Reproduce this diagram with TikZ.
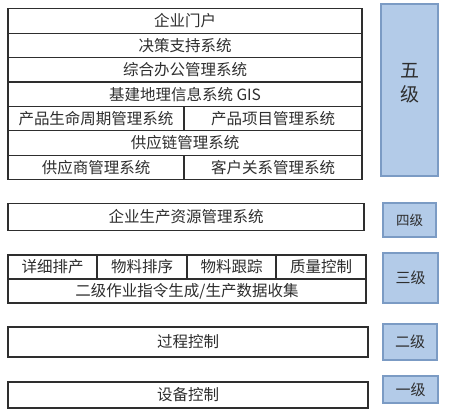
\documentclass[tikz,border=0pt]{standalone}
\usepackage{fontspec}
\setmainfont{Noto Sans CJK SC}
\usepackage{xcolor}
\usepackage{tikz}

\definecolor{levelfill}{HTML}{B3CBE8}
\definecolor{levelline}{HTML}{7B9BC4}
\definecolor{textgray}{HTML}{2E2E2E}

\tikzset{
    cell/.style={draw=textgray, line width=1.1pt, rectangle, inner sep=0pt,
        minimum height=24.4pt, text=textgray, font=\fontsize{15.5}{16}\selectfont},
    level/.style={draw=levelline, line width=1.2pt, fill=levelfill, rectangle,
        inner sep=0pt, text=textgray, font=\fontsize{15}{16}\selectfont}
}

\begin{document}
\begin{tikzpicture}[x=1pt, y=-1pt]
    \useasboundingbox[fill=white] (0,0) rectangle (450,419);

    % Level 5: enterprise layer
    \node[cell, minimum width=354pt] (portal) at (185,21) {企业门户};
    \node[cell, minimum width=354pt] (decision) at (185,45.4) {决策支持系统};
    \node[cell, minimum width=354pt] (office) at (185,69.8) {综合办公管理系统};
    \node[cell, minimum width=354pt] (gis) at (185,94.2) {基建地理信息系统 GIS};
    \node[cell, minimum width=176pt] (plm) at (96,118.6) {产品生命周期管理系统};
    \node[cell, minimum width=178pt] (project) at (273,118.6) {产品项目管理系统};
    \node[cell, minimum width=354pt] (scm) at (185,143) {供应链管理系统};
    \node[cell, minimum width=176pt] (srm) at (96,167.4) {供应商管理系统};
    \node[cell, minimum width=178pt] (crm) at (273,167.4) {客户关系管理系统};
    \node[level, minimum width=57pt, minimum height=172pt, align=center,
        text depth=16pt, font=\fontsize{19}{24}\selectfont] (lv5) at (409.5,90) {五\\级};

    % Level 4: ERP
    \node[cell, minimum width=356pt, minimum height=27pt] (erp) at (186,217) {企业生产资源管理系统};
    \node[level, minimum width=53pt, minimum height=34pt,
        font=\fontsize{13.5}{14}\selectfont] (lv4) at (409.5,220) {四级};

    % Level 3: MES
    \node[cell, minimum width=89pt, minimum height=24pt] (detail) at (52.5,267) {详细排产};
    \node[cell, minimum width=90pt, minimum height=24pt] (sort) at (142,267) {物料排序};
    \node[cell, minimum width=89pt, minimum height=24pt] (track) at (231.5,267) {物料跟踪};
    \node[cell, minimum width=90pt, minimum height=24pt] (quality) at (321,267) {质量控制};
    \node[cell, minimum width=358pt, minimum height=24pt] (collect) at (187,291) {二级作业指令生成/生产数据收集};
    \node[level, minimum width=55pt, minimum height=50pt] (lv3) at (410.5,278) {三级};

    % Level 2: process control
    \node[cell, minimum width=360pt, minimum height=30pt] (process) at (188,342) {过程控制};
    \node[level, minimum width=54pt, minimum height=36pt] (lv2) at (410,342) {二级};

    % Level 1: device control
    \node[cell, minimum width=360pt, minimum height=26pt] (device) at (188,395) {设备控制};
    \node[level, minimum width=55pt, minimum height=27pt] (lv1) at (410.5,389.5) {一级};
\end{tikzpicture}
\end{document}
